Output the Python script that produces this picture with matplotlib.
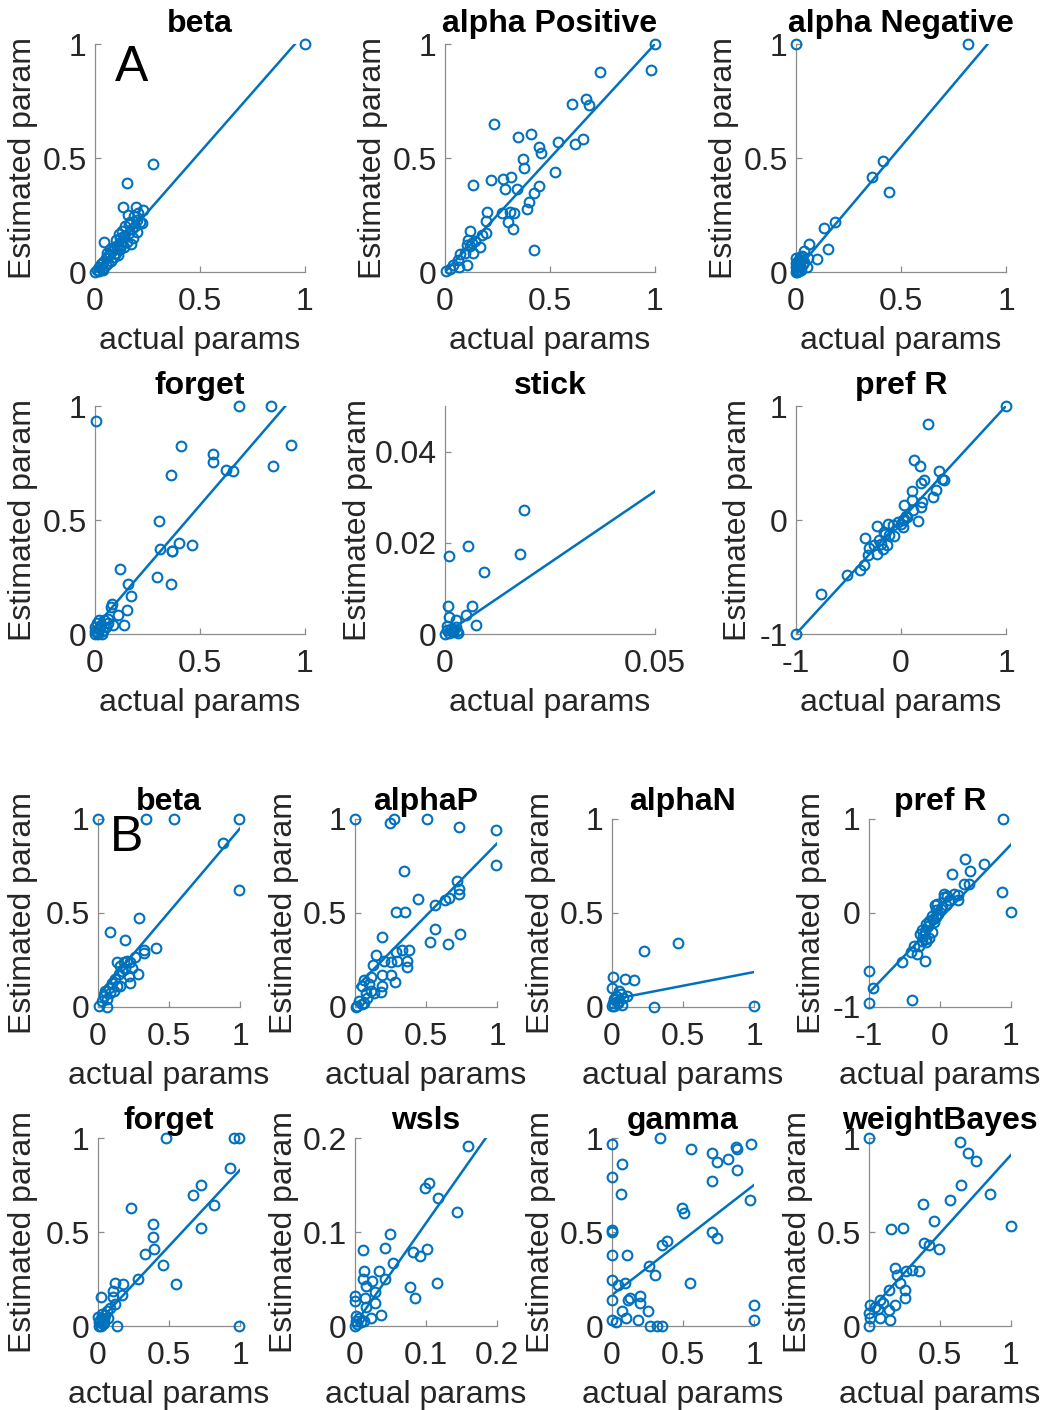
import matplotlib
matplotlib.use("Agg")
import matplotlib.pyplot as plt
import numpy as np

plt.rcParams['font.family'] = ['Liberation Sans', 'DejaVu Sans']

BLUE = "#0072BD"
AXIS_GREY = "#8c8c8c"
TEXT = "#262626"

# ---------------- Panel A: parameter recovery ----------------
a_beta_x = [1.0, 0.278, 0.151, 0.043, 0.135, 0.195, 0.23, 0.206, 0.156, 0.167, 0.214, 0.222,
            0.19, 0.175, 0.2, 0.16, 0.14, 0.18, 0.12, 0.13, 0.15, 0.11, 0.1, 0.17, 0.09, 0.12,
            0.14, 0.08, 0.1, 0.07, 0.11, 0.06, 0.09, 0.05, 0.075, 0.04, 0.06, 0.03, 0.05, 0.02,
            0.035, 0.01, 0.02, 0.0, 0.04, 0.16, 0.13, 0.115, 0.2, 0.185, 0.145, 0.105, 0.125,
            0.07, 0.055]
a_beta_y = [1.0, 0.472, 0.392, 0.133, 0.287, 0.287, 0.272, 0.26, 0.25, 0.22, 0.22, 0.216,
            0.2, 0.19, 0.175, 0.17, 0.16, 0.15, 0.15, 0.135, 0.13, 0.12, 0.14, 0.125, 0.11, 0.1,
            0.11, 0.09, 0.085, 0.08, 0.075, 0.07, 0.065, 0.06, 0.05, 0.045, 0.04, 0.035, 0.03,
            0.02, 0.015, 0.01, 0.005, 0.0, 0.01, 0.21, 0.18, 0.165, 0.23, 0.245, 0.2, 0.105,
            0.12, 0.1, 0.085]

a_alphap_x = [1.0, 0.981, 0.738, 0.67, 0.686, 0.606, 0.659, 0.619, 0.537, 0.235, 0.346, 0.41,
              0.448, 0.457, 0.373, 0.376, 0.524, 0.314, 0.278, 0.219, 0.132, 0.286, 0.341, 0.449,
              0.422, 0.4, 0.39, 0.198, 0.27, 0.31, 0.329, 0.194, 0.298, 0.325, 0.119, 0.194,
              0.425, 0.175, 0.111, 0.127, 0.103, 0.143, 0.167, 0.135, 0.095, 0.071, 0.06, 0.103,
              0.04, 0.067, 0.024, 0.003, 0.119]
a_alphap_y = [1.0, 0.886, 0.876, 0.759, 0.731, 0.737, 0.582, 0.56, 0.572, 0.648, 0.594, 0.604,
              0.55, 0.523, 0.494, 0.458, 0.44, 0.415, 0.406, 0.404, 0.382, 0.363, 0.363, 0.377,
              0.348, 0.306, 0.275, 0.265, 0.26, 0.265, 0.26, 0.225, 0.221, 0.19, 0.181, 0.173,
              0.096, 0.162, 0.14, 0.126, 0.118, 0.137, 0.108, 0.085, 0.082, 0.079, 0.053, 0.031,
              0.031, 0.02, 0.012, 0.003, 0.114]

a_alphan_x = [0.0, 0.817, 0.416, 0.362, 0.441, 0.186, 0.135, 0.154, 0.063, 0.1, 0.04, 0.056,
              0.024, 0.051, 0.03, 0.015, 0.01, 0.0, 0.005, 0.02, 0.0, 0.035, 0.01, 0.0, 0.005,
              0.025, 0.015, 0.04, 0.0, 0.02]
a_alphan_y = [1.0, 1.0, 0.488, 0.418, 0.352, 0.221, 0.192, 0.102, 0.123, 0.056, 0.092, 0.06,
              0.053, 0.023, 0.07, 0.04, 0.02, 0.0, 0.01, 0.03, 0.02, 0.035, 0.05, 0.04, 0.0,
              0.01, 0.005, 0.045, 0.06, 0.065]

a_forget_x = [0.003, 0.687, 0.838, 0.933, 0.846, 0.41, 0.563, 0.563, 0.622, 0.656, 0.36, 0.305,
              0.31, 0.368, 0.365, 0.402, 0.46, 0.119, 0.297, 0.362, 0.156, 0.17, 0.151, 0.079,
              0.076, 0.111, 0.14, 0.087, 0.063, 0.0, 0.01, 0.02, 0.0, 0.03, 0.01, 0.04, 0.05,
              0.02, 0.0, 0.015, 0.035, 0.06, 0.045, 0.025]
a_forget_y = [0.933, 1.0, 1.0, 0.827, 0.735, 0.825, 0.791, 0.754, 0.718, 0.713, 0.699, 0.494,
              0.374, 0.364, 0.366, 0.401, 0.389, 0.287, 0.25, 0.221, 0.221, 0.167, 0.104, 0.133,
              0.118, 0.085, 0.038, 0.038, 0.067, 0.0, 0.01, 0.02, 0.03, 0.04, 0.05, 0.015, 0.03,
              0.06, 0.015, 0.0, 0.0, 0.05, 0.06, 0.035]

a_stick_x = [0.0188, 0.0054, 0.001, 0.0179, 0.0093, 0.0008, 0.0065, 0.005, 0.001, 0.0025,
             0.0073, 0.0005, 0.001, 0.0015, 0.002, 0.0025, 0.003, 0.0, 0.0005, 0.0018, 0.0028]
a_stick_y = [0.0271, 0.0194, 0.0171, 0.0176, 0.0135, 0.0061, 0.0061, 0.0042, 0.0037, 0.003,
             0.002, 0.0008, 0.0003, 0.0012, 0.0005, 0.0015, 0.0002, 0.0, 0.0018, 0.0009, 0.0007]

a_prefr_x = [1.0, 0.26, 0.127, 0.181, 0.365, 0.222, 0.19, 0.413, 0.39, 0.333, 0.308, 0.1, 0.197,
             0.19, 0.105, 0.032, 0.117, 0.159, -0.229, -0.343, -0.111, -0.063, -0.133, -0.175,
             -0.302, -0.317, -0.232, -0.349, -0.39, -0.514, -0.759, -1.0, -0.206, -0.159, -0.127,
             -0.08, -0.032, 0.016, 0.0, 0.032, 0.048, -0.254, -0.19, -0.149, 0.06, 0.02]
a_prefr_y = [1.0, 0.839, 0.529, 0.474, 0.427, 0.348, 0.327, 0.348, 0.357, 0.266, 0.202, 0.251,
             0.158, 0.114, 0.173, 0.129, 0.091, -0.012, -0.056, -0.155, -0.135, -0.14, -0.216,
             -0.251, -0.246, -0.304, -0.301, -0.398, -0.442, -0.482, -0.652, -1.0, -0.178, -0.105,
             -0.032, -0.047, -0.018, -0.064, -0.035, 0.009, 0.038, -0.222, -0.208, -0.12, 0.03,
             0.0]

# ---------------- Panel B: parameter recovery ----------------
b_beta_x = [0.0, 0.335, 0.536, 0.995, 0.878, 0.993, 0.288, 0.087, 0.192, 0.407, 0.326, 0.321,
            0.262, 0.279, 0.222, 0.133, 0.157, 0.18, 0.204, 0.227, 0.169, 0.145, 0.122, 0.098,
            0.075, 0.052, 0.04, 0.063, 0.028, 0.005, 0.063, 0.11, 0.157, 0.192, 0.239, 0.215,
            0.133, 0.087]
b_beta_y = [1.0, 1.0, 1.0, 1.0, 0.87, 0.62, 0.474, 0.401, 0.355, 0.312, 0.305, 0.287, 0.264,
            0.178, 0.13, 0.241, 0.219, 0.237, 0.246, 0.237, 0.193, 0.175, 0.148, 0.13, 0.103,
            0.086, 0.059, 0.041, 0.032, 0.005, 0.0, 0.086, 0.112, 0.201, 0.21, 0.166, 0.112,
            0.077]

b_alphap_x = [0.0, 0.244, 0.274, 0.504, 0.733, 0.995, 0.995, 0.344, 0.719, 0.735, 0.735, 0.66,
              0.637, 0.443, 0.56, 0.29, 0.349, 0.562, 0.738, 0.527, 0.656, 0.187, 0.379, 0.333,
              0.286, 0.145, 0.363, 0.363, 0.297, 0.251, 0.204, 0.129, 0.192, 0.251, 0.279, 0.11,
              0.187, 0.18, 0.063, 0.052, 0.098, 0.11, 0.075, 0.133, 0.087, 0.028, 0.016, 0.052,
              0.063, 0.005]
b_alphap_y = [1.0, 0.977, 1.0, 1.0, 0.957, 0.941, 0.754, 0.725, 0.668, 0.626, 0.6, 0.579, 0.567,
              0.574, 0.54, 0.506, 0.506, 0.415, 0.387, 0.344, 0.335, 0.374, 0.305, 0.305, 0.294,
              0.276, 0.246, 0.214, 0.246, 0.237, 0.246, 0.225, 0.169, 0.169, 0.134, 0.157, 0.112,
              0.08, 0.144, 0.112, 0.121, 0.086, 0.077, 0.077, 0.05, 0.032, 0.005, 0.014, 0.023,
              0.0]

b_alphan_x = [0.222, 0.466, 0.007, 0.091, 0.152, 0.0, 0.052, 0.105, 0.075, 0.028, 0.07, 0.293,
              1.0, 0.005, 0.016, 0.0, 0.04, 0.03, 0.06, 0.012, 0.045]
b_alphan_y = [0.3, 0.34, 0.159, 0.15, 0.141, 0.103, 0.086, 0.059, 0.05, 0.041, 0.011, 0.0,
              0.005, 0.02, 0.005, 0.005, 0.02, 0.06, 0.07, 0.04, 0.03]

b_prefr_x = [0.883, 1.0, 0.869, 0.354, 0.616, 0.429, 0.171, 0.335, 0.405, 0.204, 0.251, 0.26,
             0.054, 0.133, -0.068, 0.087, 0.016, -0.03, -0.115, -0.087, -0.171, -0.218, -0.241,
             -0.148, -0.194, -0.368, -0.297, -0.405, -0.321, -0.218, -0.532, -1.0, -0.944,
             -0.391, -1.0, -0.04, 0.03, -0.06, -0.1, -0.15, -0.2, -0.26, -0.28, -0.2, -0.25,
             -0.11, -0.05, 0.05, 0.1]
b_prefr_y = [1.0, 0.009, 0.223, 0.579, 0.526, 0.444, 0.412, 0.305, 0.305, 0.205, 0.187, 0.141,
             0.169, 0.141, 0.087, 0.08, 0.045, -0.009, -0.027, -0.098, -0.134, -0.187, -0.24,
             -0.269, -0.312, -0.348, -0.348, -0.419, -0.437, -0.515, -0.526, -0.615, -0.793,
             -0.929, -0.954, 0.1, 0.06, 0.03, -0.06, -0.08, -0.12, -0.18, -0.22, -0.28, -0.3,
             -0.2, -0.04, 0.2, 0.18]

b_forget_x = [0.478, 0.96, 0.995, 0.93, 0.726, 0.672, 0.817, 0.234, 0.384, 0.389, 0.724, 0.391,
              0.328, 0.461, 0.55, 0.279, 0.176, 0.122, 0.105, 0.169, 0.023, 0.105, 0.122, 0.087,
              0.995, 0.133, 0.0, 0.01, 0.02, 0.04, 0.05, 0.06, 0.035, 0.025, 0.015, 0.005, 0.045,
              0.07, 0.03]
b_forget_y = [1.0, 1.0, 1.0, 0.838, 0.75, 0.696, 0.645, 0.627, 0.542, 0.471, 0.52, 0.407,
              0.385, 0.323, 0.226, 0.25, 0.226, 0.231, 0.187, 0.163, 0.156, 0.156, 0.115, 0.098,
              0.0, 0.0, 0.05, 0.02, 0.0, 0.035, 0.06, 0.08, 0.01, 0.045, 0.03, 0.0, 0.015, 0.04,
              0.065]

b_wsls_x = [0.159, 0.099, 0.104, 0.117, 0.144, 0.049, 0.011, 0.042, 0.082, 0.102, 0.092, 0.054,
            0.012, 0.034, 0.011, 0.024, 0.015, 0.042, 0.115, 0.078, 0.085, 0.0, 0.0, 0.014, 0.028,
            0.028, 0.016, 0.037, 0.022, 0.013, 0.001, 0.001, 0.003, 0.008, 0.0, 0.006]
b_wsls_y = [0.191, 0.147, 0.152, 0.136, 0.121, 0.098, 0.081, 0.083, 0.079, 0.082, 0.074, 0.067,
            0.058, 0.058, 0.05, 0.048, 0.043, 0.05, 0.046, 0.042, 0.03, 0.032, 0.027, 0.03, 0.036,
            0.025, 0.02, 0.012, 0.008, 0.005, 0.011, 0.005, 0.002, 0.004, 0.0, 0.008]

b_gamma_x = [0.0, 0.0, 0.0, 0.0, 0.0, 0.0, 0.0, 0.0, 0.063, 0.07, 0.106, 0.092, 0.04, 0.127,
             0.2, 0.254, 0.3, 0.35, 0.39, 0.34, 0.556, 0.49, 0.51, 0.55, 0.704, 0.74, 0.816,
             0.88, 0.98, 0.87, 0.704, 0.88, 0.704, 0.74, 0.97, 1.0, 1.0, 0.27, 0.32, 0.35, 0.18,
             0.07, 0.11, 0.2, 0.03, 0.1, 0.26]
b_gamma_y = [0.97, 0.79, 0.51, 0.5, 0.38, 0.245, 0.14, 0.03, 0.7, 0.86, 0.38, 0.23, 0.22, 0.15,
             0.16, 0.08, 0.27, 0.43, 0.45, 1.0, 0.94, 0.63, 0.6, 0.23, 0.92, 0.87, 0.89, 0.94,
             0.97, 0.95, 0.77, 0.83, 0.5, 0.47, 0.67, 0.11, 0.03, 0.0, 0.0, 0.0, 0.03, 0.08, 0.14,
             0.12, 0.02, 0.04, 0.32]

b_wbayes_x = [0.0, 0.64, 0.7, 0.75, 0.85, 1.0, 0.65, 0.57, 0.46, 0.24, 0.155, 0.38, 0.49, 0.39,
              0.42, 0.18, 0.26, 0.3, 0.35, 0.22, 0.25, 0.14, 0.08, 0.007, 0.007, 0.0, 0.14, 0.18,
              0.25, 0.06, 0.08, 0.15, 0.0, 0.1, 0.2, 0.04]
b_wbayes_y = [1.0, 0.98, 0.92, 0.88, 0.7, 0.53, 0.75, 0.67, 0.56, 0.52, 0.515, 0.65, 0.41, 0.44,
              0.43, 0.31, 0.29, 0.3, 0.29, 0.23, 0.19, 0.19, 0.14, 0.11, 0.04, 0.0, 0.085, 0.11,
              0.15, 0.09, 0.04, 0.03, 0.07, 0.12, 0.27, 0.1]

# least-squares fit lines (intercept, slope)
a_fits = [(0.0, 1.05), (0.0, 1.0), (0.005, 1.09), (0.03, 1.07), (0.0, 0.626), (0.0, 1.0)]
b_fits = [(0.06, 0.89), (0.1, 0.77), (0.04, 0.146), (-0.06, 0.788),
          (0.02, 0.81), (0.002, 1.075), (0.165, 0.585), (0.075, 0.835)]

a_titles = ["beta", "alpha Positive", "alpha Negative", "forget", "stick", "pref R"]
b_titles = ["beta", "alphaP", "alphaN", "pref R", "forget", "wsls", "gamma", "weightBayes"]

unit_ticks = [0, 0.5, 1]
unit_labels = ["0", "0.5", "1"]
pm_ticks = [-1, 0, 1]
pm_labels = ["-1", "0", "1"]
stick_xticks = [0, 0.05]
stick_xlabels = ["0", "0.05"]
stick_yticks = [0, 0.02, 0.04]
stick_ylabels = ["0", "0.02", "0.04"]
wsls_ticks = [0, 0.1, 0.2]
wsls_labels = ["0", "0.1", "0.2"]

FS = 23
W, H = 1050, 1410

fig = plt.figure(figsize=(W / 100, H / 100), dpi=100)


def make_axes(left, top, w, h):
    return fig.add_axes([left / W, 1 - (top + h) / H, w / W, h / H])


def draw(ax, title, xs, ys, fit, lim, xt, xtl, ylim, yt, ytl, ylab_x, title_off, xlab_off):
    x = np.asarray(xs)
    y = np.asarray(ys)
    ax.plot(x, y, 'o', mfc='none', mec=BLUE, ms=7, mew=1.5, clip_on=False, zorder=3)
    xx = np.array(lim)
    ax.plot(xx, fit[0] + fit[1] * xx, '-', color=BLUE, lw=1.8, zorder=2)
    ax.set_xlim(lim)
    ax.set_ylim(ylim)
    ax.set_xticks(xt)
    ax.set_xticklabels(xtl)
    ax.set_yticks(yt)
    ax.set_yticklabels(ytl)
    for s in ("top", "right"):
        ax.spines[s].set_visible(False)
    for s in ("left", "bottom"):
        ax.spines[s].set_color(AXIS_GREY)
        ax.spines[s].set_linewidth(0.9)
    ax.tick_params(direction='in', length=4, width=0.9, color=AXIS_GREY,
                   labelsize=FS, labelcolor=TEXT)
    ax.tick_params(axis='x', pad=11)
    ax.tick_params(axis='y', pad=6)
    ax.set_xlabel("actual params", fontsize=FS, color=TEXT)
    ax.set_ylabel("Estimated param", fontsize=FS, color=TEXT)
    ax.xaxis.set_label_coords(0.5, xlab_off)
    ax.yaxis.set_label_coords(ylab_x, 0.5)
    ax.text(0.5, 1 + title_off, title, transform=ax.transAxes, ha='center', va='center',
            fontsize=FS, fontweight='bold', color='black')
    ax.patch.set_alpha(0)


# Panel A layout
a_cols = [95, 445, 796]
a_rows = [44, 406]
a_w, a_h = 210, 228
a_data = [(a_beta_x, a_beta_y), (a_alphap_x, a_alphap_y), (a_alphan_x, a_alphan_y),
          (a_forget_x, a_forget_y), (a_stick_x, a_stick_y), (a_prefr_x, a_prefr_y)]

a_axes = []
for i, (xs, ys) in enumerate(a_data):
    r, c = divmod(i, 3)
    ax = make_axes(a_cols[c], a_rows[r], a_w, a_h)
    name = a_titles[i]
    if name == "stick":
        lim, xt, xtl = [0, 0.05], stick_xticks, stick_xlabels
        ylim, yt, ytl = [0, 0.05], stick_yticks, stick_ylabels
        ylx = -0.343
    elif name == "pref R":
        lim, xt, xtl = [-1, 1], pm_ticks, pm_labels
        ylim, yt, ytl = [-1, 1], pm_ticks, pm_labels
        ylx = -0.205
    else:
        lim, xt, xtl = [0, 1], unit_ticks, unit_labels
        ylim, yt, ytl = [0, 1], unit_ticks, unit_labels
        ylx = -0.271
    draw(ax, name, xs, ys, a_fits[i], lim, xt, xtl, ylim, yt, ytl, ylx,
         20 / a_h, -54 / a_h)
    a_axes.append(ax)

a_axes[0].text(0.176, 0.895, "A", transform=a_axes[0].transAxes, ha='center', va='center',
               fontsize=36, color='black')

# Panel B layout
b_cols = [98, 355, 612, 869]
b_rows = [819, 1138]
b_w, b_h = 142, 188
b_data = [(b_beta_x, b_beta_y), (b_alphap_x, b_alphap_y), (b_alphan_x, b_alphan_y),
          (b_prefr_x, b_prefr_y), (b_forget_x, b_forget_y), (b_wsls_x, b_wsls_y),
          (b_gamma_x, b_gamma_y), (b_wbayes_x, b_wbayes_y)]

b_axes = []
for i, (xs, ys) in enumerate(b_data):
    r, c = divmod(i, 4)
    ax = make_axes(b_cols[c], b_rows[r], b_w, b_h)
    name = b_titles[i]
    if name == "pref R":
        lim, xt, xtl = [-1, 1], pm_ticks, pm_labels
        ylim, yt, ytl = [-1, 1], pm_ticks, pm_labels
        ylx = -0.296
    elif name == "wsls":
        lim, xt, xtl = [0, 0.2], wsls_ticks, wsls_labels
        ylim, yt, ytl = [0, 0.2], wsls_ticks, wsls_labels
        ylx = -0.394
    else:
        lim, xt, xtl = [0, 1], unit_ticks, unit_labels
        ylim, yt, ytl = [0, 1], unit_ticks, unit_labels
        ylx = -0.4225 if c == 0 else -0.394
    draw(ax, name, xs, ys, b_fits[i], lim, xt, xtl, ylim, yt, ytl, ylx,
         17 / b_h, -54 / b_h)
    b_axes.append(ax)

b_axes[0].text(0.204, 0.898, "B", transform=b_axes[0].transAxes, ha='center', va='center',
               fontsize=36, color='black')

fig.savefig("out.png", dpi=100, facecolor='white')
